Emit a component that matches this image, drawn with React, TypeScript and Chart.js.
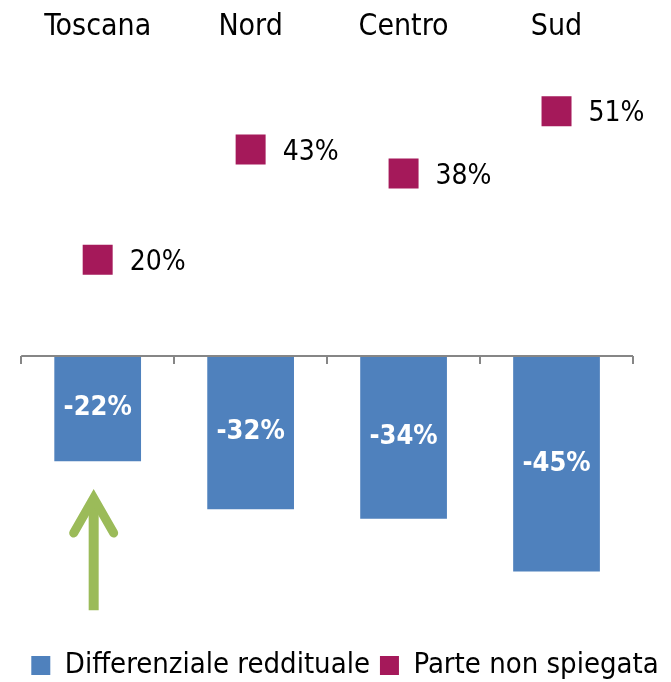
import React, { useEffect, useRef } from 'react';
import { Chart, registerables } from 'chart.js';

Chart.register(...registerables);

const categories = ['Toscana', 'Nord', 'Centro', 'Sud'];
const differenziale = [-22, -32, -34, -45];
const parteNonSpiegata = [20, 43, 38, 51];
const seriesNames = ['Differenziale reddituale', 'Parte non spiegata'];
// green arrow under Toscana, expressed in axis values
const arrowCategory = 0;
const arrowFromValue = -53.1;
const arrowToValue = -27.8;

const FONT = "'Liberation Sans Narrow', 'DejaVu Sans Condensed', 'Arial Narrow', sans-serif";
const BAR_COLOR = '#4F81BD';
const POINT_COLOR = '#A5195A';
const ARROW_COLOR = '#9BBB59';

const overlayPlugin = {
  id: 'overlay',
  afterDatasetsDraw(chart: any) {
    const { ctx, chartArea, scales } = chart;
    const xs = scales.x;
    const ys = scales.y;
    ctx.save();
    // zero axis with tick marks at category boundaries
    const y0 = Math.round(ys.getPixelForValue(0));
    const step = (chartArea.right - chartArea.left) / categories.length;
    ctx.strokeStyle = '#868686';
    ctx.lineWidth = 2;
    ctx.beginPath();
    ctx.moveTo(chartArea.left, y0);
    ctx.lineTo(chartArea.right, y0);
    for (let i = 0; i <= categories.length; i++) {
      const x = Math.round(xs.getPixelForValue(0) - step / 2 + i * step);
      ctx.moveTo(x, y0);
      ctx.lineTo(x, y0 + 8);
    }
    ctx.stroke();

    // bar labels
    const barMeta = chart.getDatasetMeta(0);
    ctx.fillStyle = '#FFFFFF';
    ctx.font = `bold 27px ${FONT}`;
    ctx.textAlign = 'center';
    ctx.textBaseline = 'middle';
    barMeta.data.forEach((bar: any, i: number) => {
      const p = bar.getProps(['x', 'y', 'base'], true);
      ctx.fillText(`${differenziale[i]}%`, p.x, (p.y + p.base) / 2);
    });

    // point labels
    const ptMeta = chart.getDatasetMeta(1);
    ctx.fillStyle = '#000000';
    ctx.font = `28px ${FONT}`;
    ctx.textAlign = 'left';
    ptMeta.data.forEach((pt: any, i: number) => {
      const p = pt.getProps(['x', 'y'], true);
      ctx.fillText(`${parteNonSpiegata[i]}%`, p.x + 32, p.y + 3);
    });

    // green arrow
    const ax = xs.getPixelForValue(arrowCategory) - 4;
    const yBottom = ys.getPixelForValue(arrowFromValue);
    const yTip = ys.getPixelForValue(arrowToValue);
    ctx.strokeStyle = ARROW_COLOR;
    ctx.lineWidth = 10;
    ctx.lineCap = 'butt';
    ctx.beginPath();
    ctx.moveTo(ax, yBottom);
    ctx.lineTo(ax, yTip + 14);
    ctx.stroke();
    ctx.lineWidth = 9;
    ctx.lineCap = 'round';
    ctx.lineJoin = 'miter';
    ctx.miterLimit = 10;
    const apexY = yTip + 9;
    ctx.beginPath();
    ctx.moveTo(ax - 20, apexY + 35);
    ctx.lineTo(ax, apexY);
    ctx.lineTo(ax + 20, apexY + 35);
    ctx.stroke();
    ctx.restore();
  },
};

export default function App() {
  const canvasRef = useRef<HTMLCanvasElement | null>(null);

  useEffect(() => {
    const canvas = canvasRef.current;
    if (!canvas) return;
    const chart = new Chart(canvas, {
      type: 'bar',
      data: {
        labels: categories,
        datasets: [
          {
            type: 'bar',
            label: seriesNames[0],
            data: differenziale,
            backgroundColor: BAR_COLOR,
            borderWidth: 0,
            categoryPercentage: 1,
            barPercentage: 0.567,
          },
          {
            type: 'line',
            label: seriesNames[1],
            data: parteNonSpiegata,
            showLine: false,
            pointStyle: 'rect',
            pointRadius: 21.2,
            backgroundColor: POINT_COLOR,
            borderColor: POINT_COLOR,
            borderWidth: 0,
          } as any,
        ],
      },
      options: {
        responsive: false,
        animation: false,
        events: [],
        layout: { padding: { left: 19, right: 0, top: 0, bottom: 0 } },
        scales: {
          x: {
            position: 'top',
            offset: true,
            grid: { display: false, drawTicks: false },
            border: { display: false },
            ticks: {
              color: '#000000',
              padding: 23,
              font: { family: FONT, size: 30 },
            },
            afterFit: (scale: any) => {
              scale.height = 68;
            },
          },
          y: {
            display: false,
            min: -59.5,
            max: 60,
          },
          yRight: {
            position: 'right',
            display: true,
            grid: { display: false, drawTicks: false },
            border: { display: false },
            ticks: { display: false },
            afterFit: (scale: any) => {
              scale.width = 38;
            },
          },
        },
        plugins: {
          legend: {
            position: 'bottom',
            labels: {
              color: '#000000',
              boxWidth: 19,
              boxHeight: 19,
              padding: 10,
              font: { family: FONT, size: 29 },
            },
          },
          tooltip: { enabled: false },
        },
      },
      plugins: [overlayPlugin],
    });
    return () => chart.destroy();
  }, []);

  return (
    <div style={{ position: 'fixed', left: 0, top: 0, width: 671, height: 690, background: '#fff' }}>
      <canvas ref={canvasRef} width={671} height={690} style={{ width: 671, height: 690, display: 'block' }} />
    </div>
  );
}
